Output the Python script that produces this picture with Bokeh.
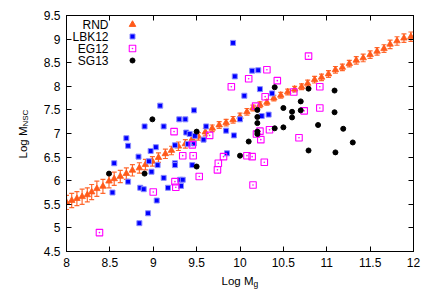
import numpy as np
from bokeh.plotting import figure
from bokeh.models import Range1d, FixedTicker, LinearAxis, Label, CustomLabelingPolicy
from bokeh.core.properties import value
from bokeh.embed import file_html
from bokeh.resources import INLINE

# ---------------- data ----------------
rnd_x = [8.00, 8.06, 8.12, 8.18, 8.24, 8.29, 8.35, 8.42, 8.49, 8.55,
         8.62, 8.69, 8.76, 8.84, 8.91, 8.99, 9.06, 9.14, 9.21, 9.29,
         9.37, 9.45, 9.52, 9.60, 9.68, 9.76, 9.84, 9.92, 10.00, 10.08,
         10.15, 10.23, 10.31, 10.39, 10.47, 10.55, 10.63, 10.71, 10.78, 10.86,
         10.94, 11.02, 11.10, 11.18, 11.26, 11.34, 11.42, 11.50, 11.58, 11.66,
         11.73, 11.81, 11.89, 11.97]
rnd_y = [5.54, 5.58, 5.62, 5.66, 5.70, 5.76, 5.83, 5.88, 5.99, 6.04,
         6.09, 6.15, 6.22, 6.27, 6.34, 6.41, 6.49, 6.57, 6.64, 6.73,
         6.78, 6.89, 6.94, 7.03, 7.11, 7.18, 7.23, 7.29, 7.36, 7.46,
         7.54, 7.61, 7.66, 7.75, 7.81, 7.88, 7.94, 7.99, 8.06, 8.14,
         8.19, 8.26, 8.35, 8.40, 8.48, 8.55, 8.60, 8.67, 8.74, 8.80,
         8.89, 8.96, 9.02, 9.05]
rnd_err = [0.15, 0.15, 0.15, 0.16, 0.15, 0.16, 0.16, 0.15, 0.14, 0.14,
           0.13, 0.12, 0.12, 0.11, 0.11, 0.10, 0.10, 0.10, 0.09, 0.09,
           0.09, 0.08, 0.08, 0.08, 0.07, 0.07, 0.07, 0.07, 0.07, 0.07,
           0.06, 0.06, 0.06, 0.06, 0.06, 0.06, 0.06, 0.06, 0.07, 0.07,
           0.07, 0.07, 0.07, 0.07, 0.07, 0.08, 0.08, 0.08, 0.08, 0.08,
           0.09, 0.09, 0.09, 0.10]

lbk_x = [9.08, 8.90, 9.12, 9.30, 9.37, 9.47, 8.69, 8.71, 9.03, 8.97,
         9.25, 9.38, 9.42, 9.48, 9.40, 9.47, 9.58, 9.61, 9.92, 9.94,
         10.14, 10.21, 10.23, 10.05, 10.37, 10.33, 10.25, 10.00, 9.84, 9.93,
         8.55, 8.53, 8.71, 8.83, 8.95, 8.98, 9.05, 8.85, 8.89, 9.04,
         8.94, 8.84, 9.12, 9.17, 9.25, 9.25, 9.31, 9.34, 9.32, 9.45, 9.85]
lbk_y = [7.59, 7.15, 7.15, 7.30, 7.30, 7.49, 6.90, 6.74, 6.71, 6.63,
         6.75, 7.02, 6.99, 6.95, 6.78, 6.79, 6.87, 7.15, 8.92, 8.21,
         8.33, 8.34, 7.94, 7.80, 7.85, 7.40, 7.37, 7.30, 7.06, 6.96,
         6.37, 5.75, 5.98, 6.51, 6.41, 6.19, 6.33, 5.85, 5.82, 5.58,
         5.31, 5.10, 6.06, 5.85, 6.37, 6.33, 6.02, 6.02, 5.89, 6.33, 6.58]

eg_x = [9.24, 9.45, 9.65, 10.79, 10.31, 10.10, 10.43, 9.90, 10.92, 10.29,
        10.62, 10.18, 10.92, 10.74, 10.23, 10.34, 10.19, 10.24, 10.68, 8.38,
        9.00, 9.25, 9.26, 9.34, 9.46, 9.53, 9.75, 9.74, 9.81, 10.08,
        10.14, 10.28, 10.15]
eg_y = [7.04, 6.76, 6.96, 8.64, 8.35, 8.16, 8.12, 7.99, 7.99, 7.78,
        7.88, 7.58, 7.54, 7.48, 7.05, 7.08, 6.99, 6.87, 6.91, 4.90,
        5.76, 5.98, 5.86, 6.53, 6.53, 6.09, 6.37, 6.23, 6.51, 6.53,
        6.51, 6.39, 5.91]

sg_x = [8.99, 9.50, 8.49, 8.90, 9.50, 10.40, 10.79, 11.09, 10.70, 10.20,
        10.50, 10.60, 10.70, 10.20, 10.60, 11.09, 10.20, 10.90, 10.40, 10.50,
        11.19, 10.20, 10.20, 10.10, 11.30, 10.79, 10.00, 11.10]
sg_y = [7.30, 7.04, 6.15, 6.15, 6.30, 7.98, 7.95, 7.91, 7.68, 7.50,
        7.54, 7.46, 7.49, 7.35, 7.34, 7.45, 7.22, 7.18, 7.11, 7.13,
        7.10, 7.04, 6.99, 6.83, 6.81, 6.64, 6.53, 6.60]

x_ticks = [8, 8.5, 9, 9.5, 10, 10.5, 11, 11.5, 12]
x_tick_labels = ["8", "8.5", "9", "9.5", "10", "10.5", "11", "11.5", "12"]
y_ticks = [4.5, 5, 5.5, 6, 6.5, 7, 7.5, 8, 8.5, 9, 9.5]
y_tick_labels = ["4.5", "5", "5.5", "6", "6.5", "7", "7.5", "8", "8.5", "9", "9.5"]

series_names = ["RND", "LBK12", "EG12", "SG13"]

# ---------------- style ----------------
FONT = "Liberation Sans"
ORANGE = "#ff5a1a"
BLUE = "#0000ff"
MAGENTA = "#ff00ff"
BLACK = "#000000"

X0, X1, Y0, Y1 = 8, 12, 4.5, 9.5
FW, FH = 347, 236

p = figure(frame_width=FW, frame_height=FH,
           min_border_left=66, min_border_right=10,
           min_border_top=15, min_border_bottom=43,
           x_range=Range1d(X0, X1), y_range=Range1d(Y0, Y1),
           output_backend="svg", toolbar_location=None)
p.grid.visible = False
p.outline_line_color = "black"
p.outline_line_width = 1
p.background_fill_color = "white"
p.border_fill_color = "white"

NO_LABELS = CustomLabelingPolicy(code="for (const i of indices) indices.unset(i); return indices")


def style_axis(ax, ticks, labels, show_labels=True):
    ax.ticker = FixedTicker(ticks=ticks)
    ax.major_tick_in = 5
    ax.major_tick_out = 0
    ax.minor_tick_line_color = None
    ax.axis_line_color = "black"
    ax.major_tick_line_color = "black"
    if show_labels:
        ax.major_label_overrides = dict(zip(ticks, labels))
        ax.major_label_text_font = FONT
        ax.major_label_text_font_size = "12px"
        ax.major_label_text_color = "black"
        ax.major_label_standoff = 6
    else:
        ax.major_label_policy = NO_LABELS
        ax.major_label_text_font_size = "1px"
        ax.major_label_standoff = 0


style_axis(p.xaxis[0], x_ticks, x_tick_labels)
style_axis(p.yaxis[0], y_ticks, y_tick_labels)
top_ax = LinearAxis()
style_axis(top_ax, x_ticks, x_tick_labels, show_labels=False)
p.add_layout(top_ax, "above")
right_ax = LinearAxis()
style_axis(right_ax, y_ticks, y_tick_labels, show_labels=False)
p.add_layout(right_ax, "right")

# pixel (relative to frame) -> data helpers for annotation placement
def dx(px):
    return X0 + px * (X1 - X0) / FW

def dy(py):
    return Y1 - py * (Y1 - Y0) / FH

# ---------------- RND with error bars ----------------
rx = np.array(rnd_x)
ry = np.array(rnd_y)
re = np.array(rnd_err)
p.segment(x0=rx, y0=ry - re, x1=rx, y1=ry + re, line_color=ORANGE, line_width=1.2, line_alpha=0.9)
p.scatter(x=np.concatenate([rx, rx]), y=np.concatenate([ry - re, ry + re]),
          marker="dash", size=5, line_color=ORANGE, line_width=1.2, line_alpha=0.9)
p.scatter(x=rx, y=ry, marker="triangle", size=6.5, fill_color=ORANGE, line_color=ORANGE, line_width=0.8)

# ---------------- other samples ----------------
p.scatter(x=lbk_x, y=lbk_y, marker="square", size=5, fill_color=BLUE, line_color="#8c8cff", line_width=1)
p.scatter(x=eg_x, y=eg_y, marker="square_dot", size=6.5, fill_color=None, line_color=MAGENTA, line_width=1.1)
p.scatter(x=sg_x, y=sg_y, marker="circle", size=5, fill_color=BLACK, line_color=BLACK)

# ---------------- legend (gnuplot style: text then symbol) ----------------
row_px = [9, 21, 33, 45]
lx_text = dx(42)
lx_mark = dx(66)
ly = [dy(r) for r in row_px]
p.text(x=[lx_text] * 4, y=ly, text=series_names, text_align="right", text_baseline="middle",
       text_font=value(FONT), text_font_size=value("12px"), text_color="black")
p.scatter(x=[lx_mark], y=[ly[0]], marker="triangle", size=6.5, fill_color=ORANGE, line_color=ORANGE)
p.scatter(x=[lx_mark], y=[ly[1]], marker="square", size=5, fill_color=BLUE, line_color="#8c8cff", line_width=1)
p.scatter(x=[lx_mark], y=[ly[2]], marker="square_dot", size=6.5, fill_color=None, line_color=MAGENTA, line_width=1.1)
p.scatter(x=[lx_mark], y=[ly[3]], marker="circle", size=5, fill_color=BLACK, line_color=BLACK)

# ---------------- axis titles with subscripts (side panel => not clipped) ----------------
p.add_layout(Label(x=dx(155), y=dy(265), text="Log M", text_font=FONT, text_font_size="11.5px",
                   text_align="left", text_baseline="alphabetic", text_color="black"), "below")
p.add_layout(Label(x=dx(187), y=dy(268), text="g", text_font=FONT, text_font_size="8.5px",
                   text_align="left", text_baseline="alphabetic", text_color="black"), "below")
p.add_layout(Label(x=dx(-44), y=dy(143), text="Log M", text_font=FONT, text_font_size="11.5px",
                   angle=np.pi / 2, text_align="left", text_baseline="alphabetic", text_color="black"), "below")
p.add_layout(Label(x=dx(-41), y=dy(111), text="NSC", text_font=FONT, text_font_size="8px",
                   angle=np.pi / 2, text_align="left", text_baseline="alphabetic", text_color="black"), "below")

open("out.html", "w").write(file_html(p, INLINE))
